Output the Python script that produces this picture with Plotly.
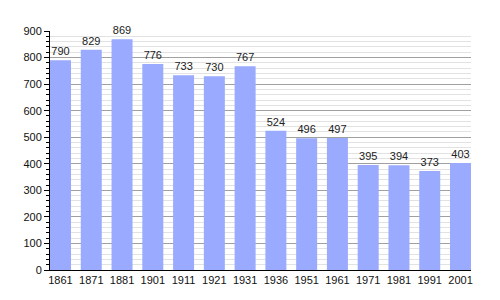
import plotly.graph_objects as go

years = ["1861", "1871", "1881", "1901", "1911", "1921", "1931", "1936", "1951", "1961", "1971", "1981", "1991", "2001"]
population = [790, 829, 869, 776, 733, 730, 767, 524, 496, 497, 395, 394, 373, 403]

f = 0.682
fig = go.Figure(go.Bar(
    x=years, y=population,
    marker=dict(color="#99aaff", line=dict(width=0)),
    text=[str(v) for v in population],
    textposition="outside",
    textfont=dict(size=11, color="#222222", family="Liberation Sans, Arial, sans-serif"),
    cliponaxis=False,
))
fig.update_layout(
    width=500, height=300,
    margin=dict(l=50, r=29, t=31, b=30),
    paper_bgcolor="white", plot_bgcolor="white",
    bargap=1 - f,
    showlegend=False,
    font=dict(family="Liberation Sans, Arial, sans-serif", size=11, color="#111111"),
    uniformtext=dict(mode=False),
)
fig.update_xaxes(
    type="category",
    range=[-f / 2, len(years) - 1 + f / 2],
    showline=True, linecolor="black", linewidth=1,
    ticks="", showgrid=False,
    tickfont=dict(size=11),
)
fig.update_yaxes(
    range=[0, 900], dtick=100, tick0=0,
    showline=True, linecolor="black", linewidth=1,
    ticks="outside", ticklen=5, tickcolor="black",
    showgrid=True, gridcolor="#a0a0a0", gridwidth=1,
    zeroline=False,
    tickfont=dict(size=11),
    minor=dict(dtick=20, ticks="outside", ticklen=3, tickcolor="black",
               showgrid=True, gridcolor="#e2e2e2", gridwidth=1),
)
fig.write_html("out.html")
